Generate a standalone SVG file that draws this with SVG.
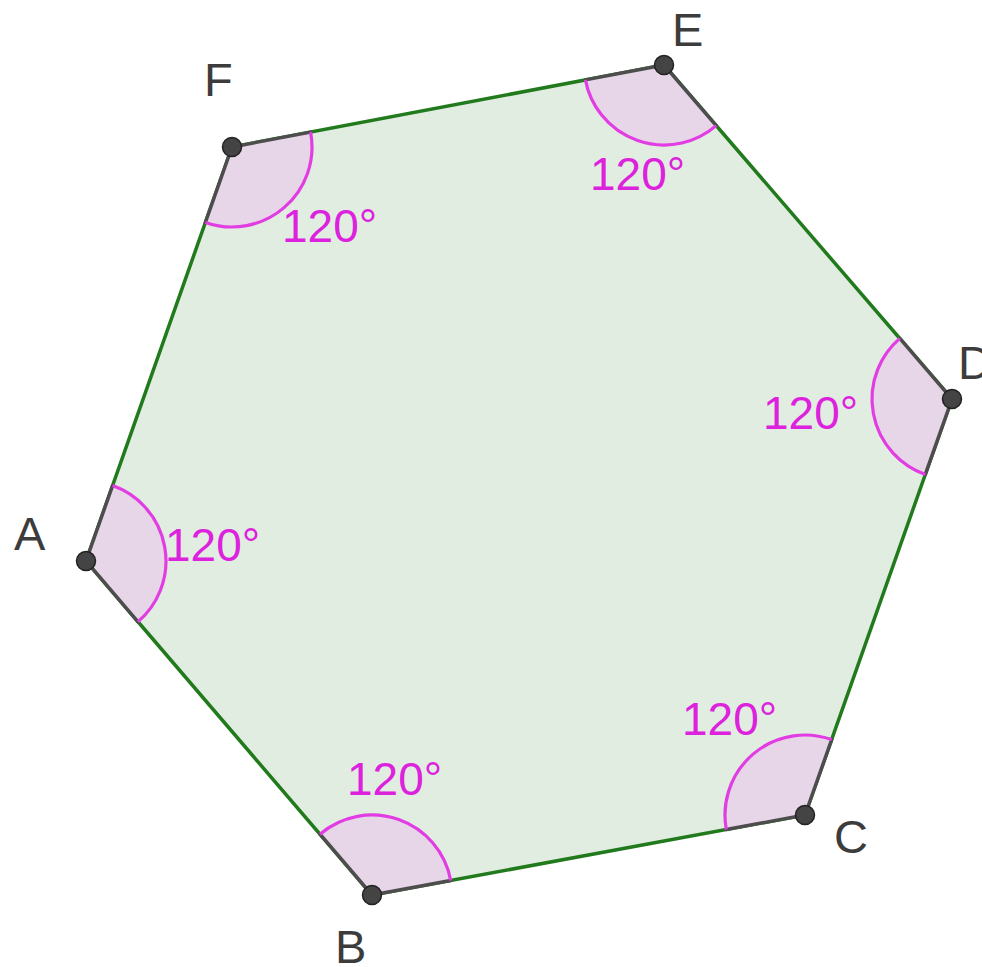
<svg xmlns="http://www.w3.org/2000/svg" width="982" height="967" viewBox="0 0 982 967">
<style>
.poly{fill:#e2ede2;stroke:#217a1c;stroke-width:3.5;stroke-linejoin:round}
.sec{fill:#e6d6e8;stroke:none}
.gray{stroke:#4d4d4d;stroke-width:3.5;stroke-linecap:round;fill:none}
.arc{fill:none;stroke:#e23de2;stroke-width:3.2}
.dot{fill:#444;stroke:#222;stroke-width:1.5}
.lbl{font-family:"Liberation Sans",Arial,sans-serif;font-size:47px;fill:#3c3c3c}
.ang{font-family:"Liberation Sans",Arial,sans-serif;font-size:46px;fill:#dd22dd}
</style>
<rect width="982" height="967" fill="#ffffff"/>
<g id="polygon">
<polygon class="poly" points="86,561 372,895 805,815 952,399 664,65 232,147"/>
</g>
<g id="angles">
<g id="angle-A"><path class="sec" d="M86,561 L112.6,485.6 A80,80 0 0 1 138,621.8 Z"/></g>
<g id="angle-B"><path class="sec" d="M372,895 L320,834.2 A80,80 0 0 1 450.7,880.5 Z"/></g>
<g id="angle-C"><path class="sec" d="M805,815 L726.3,829.5 A80,80 0 0 1 831.7,739.6 Z"/></g>
<g id="angle-D"><path class="sec" d="M952,399 L925.3,474.4 A80,80 0 0 1 899.8,338.4 Z"/></g>
<g id="angle-E"><path class="sec" d="M664,65 L716.2,125.6 A80,80 0 0 1 585.4,79.9 Z"/></g>
<g id="angle-F"><path class="sec" d="M232,147 L310.6,132.1 A80,80 0 0 1 205.4,222.4 Z"/></g>
</g>
<g id="connectors">
<path class="gray" d="M112.6,485.6 L86,561 L138,621.8"/>
<path class="gray" d="M320,834.2 L372,895 L450.7,880.5"/>
<path class="gray" d="M726.3,829.5 L805,815 L831.7,739.6"/>
<path class="gray" d="M925.3,474.4 L952,399 L899.8,338.4"/>
<path class="gray" d="M716.2,125.6 L664,65 L585.4,79.9"/>
<path class="gray" d="M310.6,132.1 L232,147 L205.4,222.4"/>
<path class="arc" d="M112.6,485.6 A80,80 0 0 1 138,621.8"/>
<path class="arc" d="M320,834.2 A80,80 0 0 1 450.7,880.5"/>
<path class="arc" d="M726.3,829.5 A80,80 0 0 1 831.7,739.6"/>
<path class="arc" d="M925.3,474.4 A80,80 0 0 1 899.8,338.4"/>
<path class="arc" d="M716.2,125.6 A80,80 0 0 1 585.4,79.9"/>
<path class="arc" d="M310.6,132.1 A80,80 0 0 1 205.4,222.4"/>
</g>
<g id="A"><circle class="dot" cx="86" cy="561" r="9.5"/><text class="lbl" x="14" y="550">A</text><text class="ang" x="165" y="561">120°</text></g>
<g id="B"><circle class="dot" cx="372" cy="895" r="9.5"/><text class="lbl" x="335" y="963">B</text><text class="ang" x="347" y="795">120°</text></g>
<g id="C"><circle class="dot" cx="805" cy="815" r="9.5"/><text class="lbl" x="834" y="853">C</text><text class="ang" x="682" y="735">120°</text></g>
<g id="D"><circle class="dot" cx="952" cy="399" r="9.5"/><text class="lbl" x="958" y="379">D</text><text class="ang" x="763" y="429">120°</text></g>
<g id="E"><circle class="dot" cx="664" cy="65" r="9.5"/><text class="lbl" x="672" y="46">E</text><text class="ang" x="590" y="190">120°</text></g>
<g id="F"><circle class="dot" cx="232" cy="147" r="9.5"/><text class="lbl" x="204" y="96">F</text><text class="ang" x="282" y="242">120°</text></g>
</svg>
